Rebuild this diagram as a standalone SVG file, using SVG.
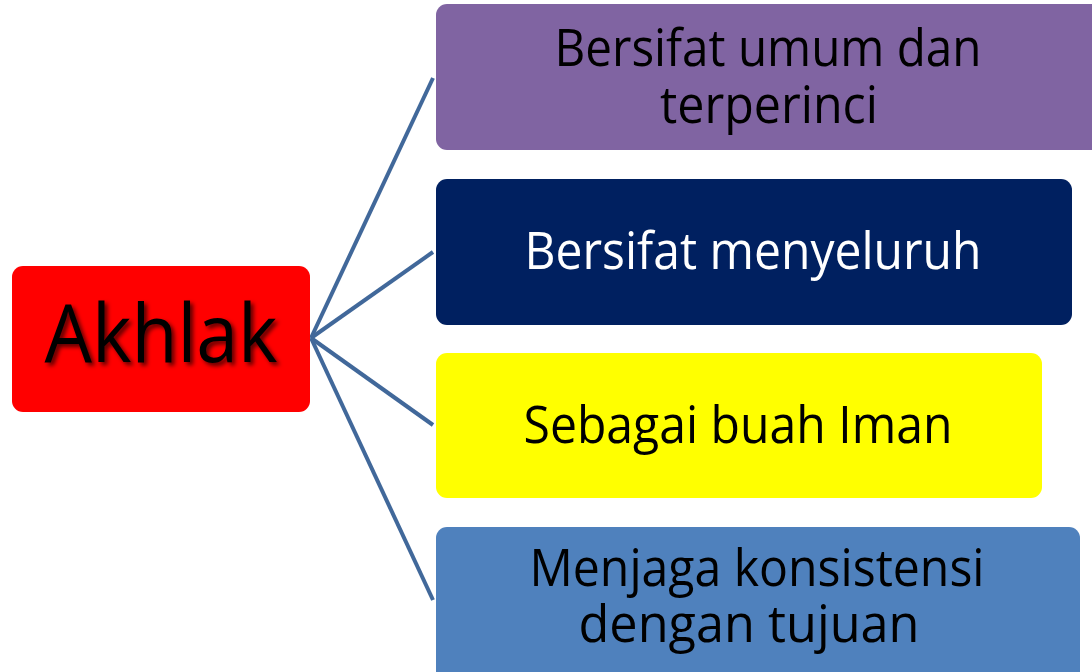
<svg xmlns="http://www.w3.org/2000/svg" width="1092" height="672" viewBox="0 0 1092 672">
<style>
.t{font-family:"Open Sans","Noto Sans",sans-serif;font-size:51px;text-anchor:middle;fill:#000}
.w{fill:#fff}
.c{stroke:#41689A;stroke-width:4;fill:none}
</style>
<defs>
<filter id="sh" x="-20%" y="-30%" width="140%" height="160%"><feDropShadow dx="3" dy="3" stdDeviation="2" flood-color="#000" flood-opacity="0.65"/></filter>
</defs>
<rect width="1092" height="672" fill="#fff"/>
<g id="connectors">
<line class="c" x1="311" y1="338" x2="433" y2="78"/>
<line class="c" x1="311" y1="338" x2="433" y2="252"/>
<line class="c" x1="311" y1="338" x2="433" y2="425"/>
<line class="c" x1="311" y1="338" x2="433" y2="600"/>
</g>
<g id="akhlak">
<rect x="12" y="266" width="298" height="146" rx="11" fill="#FF0000"/>
<text x="161" y="362" class="t" style="font-size:80px" textLength="233" lengthAdjust="spacingAndGlyphs" filter="url(#sh)">Akhlak</text>
</g>
<g id="n1">
<rect x="436" y="4" width="670" height="146" rx="11" fill="#8064A2"/>
<text x="768" y="66" class="t" textLength="427" lengthAdjust="spacingAndGlyphs">Bersifat umum dan</text>
<text x="769" y="123" class="t" textLength="218" lengthAdjust="spacingAndGlyphs">terperinci</text>
</g>
<g id="n2">
<rect x="436" y="179" width="636" height="146" rx="11" fill="#002060"/>
<text x="753" y="269" class="t w" textLength="457" lengthAdjust="spacingAndGlyphs">Bersifat menyeluruh</text>
</g>
<g id="n3">
<rect x="436" y="353" width="606" height="145" rx="11" fill="#FFFF00"/>
<text x="738" y="443" class="t" textLength="429" lengthAdjust="spacingAndGlyphs">Sebagai buah Iman</text>
</g>
<g id="n4">
<rect x="436" y="527" width="644" height="160" rx="11" fill="#4F81BD"/>
<text x="757" y="586" class="t" textLength="455" lengthAdjust="spacingAndGlyphs">Menjaga konsistensi</text>
<text x="749" y="642" class="t" textLength="341" lengthAdjust="spacingAndGlyphs">dengan tujuan</text>
</g>
</svg>
